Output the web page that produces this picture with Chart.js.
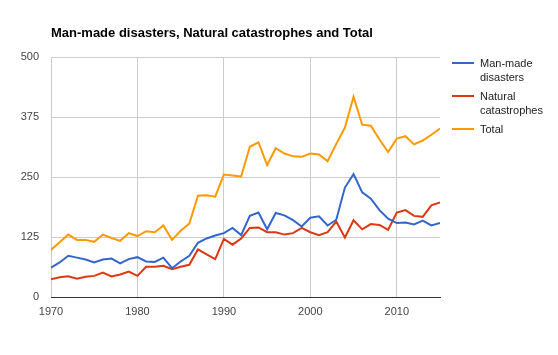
<!DOCTYPE html>
<html>
<head>
<meta charset="utf-8">
<script src="https://cdn.jsdelivr.net/npm/chart.js@4/dist/chart.umd.min.js"></script>
<style>
  html, body { margin: 0; padding: 0; background: #fff; }
  #wrap { position: relative; width: 558px; height: 355px; font-family: Arial, "Liberation Sans", sans-serif; }
  #title { position: absolute; left: 51px; top: 25px; font-size: 13px; font-weight: bold; color: #000; white-space: nowrap; }
  #legend { position: absolute; left: 452px; top: 56px; font-size: 11px; color: #222; }
  .item { position: relative; padding-left: 28px; line-height: 14px; margin-bottom: 5px; }
  .swatch { position: absolute; left: 0; top: 6px; width: 22px; height: 2px; }
  canvas { position: absolute; left: 0; top: 0; }
</style>
</head>
<body>
<div id="wrap">
  <canvas id="c" width="558" height="355"></canvas>
  <div id="title">Man-made disasters, Natural catastrophes and Total</div>
  <div id="legend"></div>
</div>
<script>
const years = [1970,1971,1972,1973,1974,1975,1976,1977,1978,1979,1980,1981,1982,1983,1984,1985,1986,1987,1988,1989,1990,1991,1992,1993,1994,1995,1996,1997,1998,1999,2000,2001,2002,2003,2004,2005,2006,2007,2008,2009,2010,2011,2012,2013,2014,2015];
const manMade = [61,72,86,82,78,72,78,80,70,79,83,74,73,82,60,74,86,113,122,128,133,144,129,169,176,141,175,170,160,147,165,168,149,161,228,256,218,205,181,163,154,155,151,159,149,154];
const natural = [37,41,43,38,42,44,51,43,47,53,44,63,63,65,58,63,67,99,89,79,121,109,122,144,145,135,135,130,133,144,135,129,135,157,124,160,141,152,150,140,176,181,169,167,191,197];
const total = [98,114,130,119,119,115,130,123,117,133,127,137,135,149,119,138,153,211,212,209,255,253,251,313,322,275,310,299,293,292,299,297,283,319,353,417,359,357,328,302,330,335,318,326,338,351];
const yTicks = [0,125,250,375,500];
const xTicks = [1970,1980,1990,2000,2010];
const seriesNames = ["Man-made disasters","Natural catastrophes","Total"];
const seriesLegend = [["Man-made","disasters"],["Natural","catastrophes"],["Total"]];
const colors = ["#3366cc","#dc3912","#ff9900"];
const seriesData = [manMade, natural, total];

const datasets = seriesData.map((arr, i) => ({
  label: seriesNames[i],
  data: years.map((y, j) => ({x: y, y: arr[j]})),
  borderColor: colors[i],
  backgroundColor: colors[i],
  borderWidth: 2,
  pointRadius: 0,
  tension: 0,
  fill: false
}));

const legend = document.getElementById('legend');
seriesLegend.forEach((lines, i) => {
  const d = document.createElement('div');
  d.className = 'item';
  d.innerHTML = '<span class="swatch" style="background:' + colors[i] + '"></span>' + lines.join('<br>');
  legend.appendChild(d);
});

new Chart(document.getElementById('c'), {
  type: 'line',
  data: { datasets },
  options: {
    responsive: false,
    animation: false,
    devicePixelRatio: 1,
    layout: { padding: { left: 0, top: 57, right: 118, bottom: 0 } },
    plugins: { legend: { display: false }, title: { display: false }, tooltip: { enabled: false } },
    scales: {
      x: {
        type: 'linear',
        min: 1970, max: 2015,
        afterBuildTicks: (s) => { s.ticks = xTicks.map(v => ({value: v})); },
        afterFit: (s) => { s.height = 58; },
        grid: { color: '#cccccc', drawTicks: false },
        border: { color: '#333333', width: 1 },
        ticks: { padding: 8, color: '#444', font: { family: 'Arial, "Liberation Sans"', size: 11 }, callback: v => String(v), maxRotation: 0 }
      },
      y: {
        min: 0, max: 500,
        afterBuildTicks: (s) => { s.ticks = yTicks.map(v => ({value: v})); },
        afterFit: (s) => { s.width = 51; },
        grid: { color: '#cccccc', drawTicks: false },
        border: { display: false },
        ticks: { padding: 12, color: '#444', font: { family: 'Arial, "Liberation Sans"', size: 11 }, callback: v => String(v) }
      }
    }
  }
});
</script>
</body>
</html>
